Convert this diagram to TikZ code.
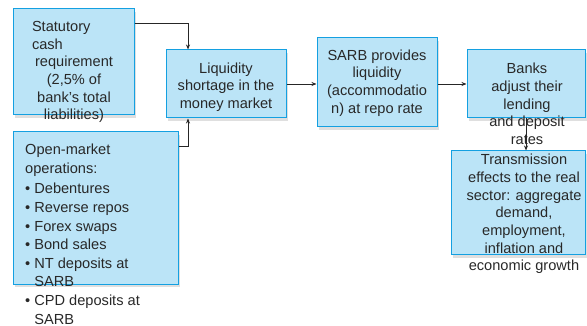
\documentclass[tikz,border=0pt]{standalone}
\usepackage{fontspec}
\setmainfont{Liberation Sans}
\usetikzlibrary{arrows.meta,shadows}
\definecolor{boxfill}{RGB}{187,228,247}
\definecolor{boxline}{RGB}{20,160,225}
\definecolor{txt}{RGB}{40,40,40}
\begin{document}
\begin{tikzpicture}[x=1pt,y=-1pt,
  box/.style={draw=boxline, line width=1pt, fill=boxfill, inner sep=0pt,
    drop shadow={shadow xshift=2pt,shadow yshift=-3pt,opacity=0.25}},
  lbl/.style={inner sep=0pt, text=txt, font=\fontsize{14.6}{17.7}\selectfont, align=center},
  conn/.style={draw=black!85, line width=0.8pt, -{Stealth[length=5pt,width=4pt]}}]
\useasboundingbox (0,0) rectangle (587,326);
% boxes
\node[box, minimum width=121pt, minimum height=106pt] (b1) at (73.5,62) {};
\node[box, minimum width=120pt, minimum height=68pt] (b2) at (226,84) {};
\node[box, minimum width=120pt, minimum height=89pt] (b3) at (377,82.5) {};
\node[box, minimum width=118pt, minimum height=68pt] (b4) at (526,84) {};
\node[box, minimum width=134pt, minimum height=104pt] (b5) at (518,203) {};
\node[box, minimum width=165pt, minimum height=152pt] (b6) at (95.5,208) {};
% connectors
\draw[conn] (b1.east |- 0,23) -| ([xshift=-38pt]b2.north);
\draw[conn] (b6.east |- 0,146) -| ([xshift=-38pt]b2.south);
\draw[conn] (b2.east) -- (b3.west |- b2.east);
\draw[conn] (b3.east |- b4.west) -- (b4.west);
% texts
\node[lbl] (t1) at (74,72) {\makebox[84pt][l]{Statutory}\\\makebox[84pt][l]{cash}\\requirement\\(2,5\% of\\bank’s total\\liabilities)};
\node[lbl] (t2) at (226,87) {Liquidity\\shortage in the\\money market};
\node[lbl] (t3) at (377,83) {SARB provides\\liquidity\\(accommodatio\\n) at repo rate};
\node[lbl] (t4) at (527,104) {Banks\\adjust their\\lending\\and deposit\\rates};
\node[lbl] (t5) at (524,214) {Transmission\\effects to the real\\sector: aggregate\\demand,\\employment,\\inflation and\\economic growth};
\node[lbl, font=\fontsize{14.6}{18.6}\selectfont, align=left, anchor=north west] (t6) at (25,144) {Open-market\\operations:\\[2pt]
\textbullet\ Debentures\\
\textbullet\ Reverse repos\\
\textbullet\ Forex swaps\\
\textbullet\ Bond sales\\
\textbullet\ NT deposits at\\
\phantom{\textbullet\ }SARB\\
\textbullet\ CPD deposits at\\
\phantom{\textbullet\ }SARB};
\draw[conn] (b4.south) -- (b4.south |- b5.north);
\end{tikzpicture}
\end{document}
